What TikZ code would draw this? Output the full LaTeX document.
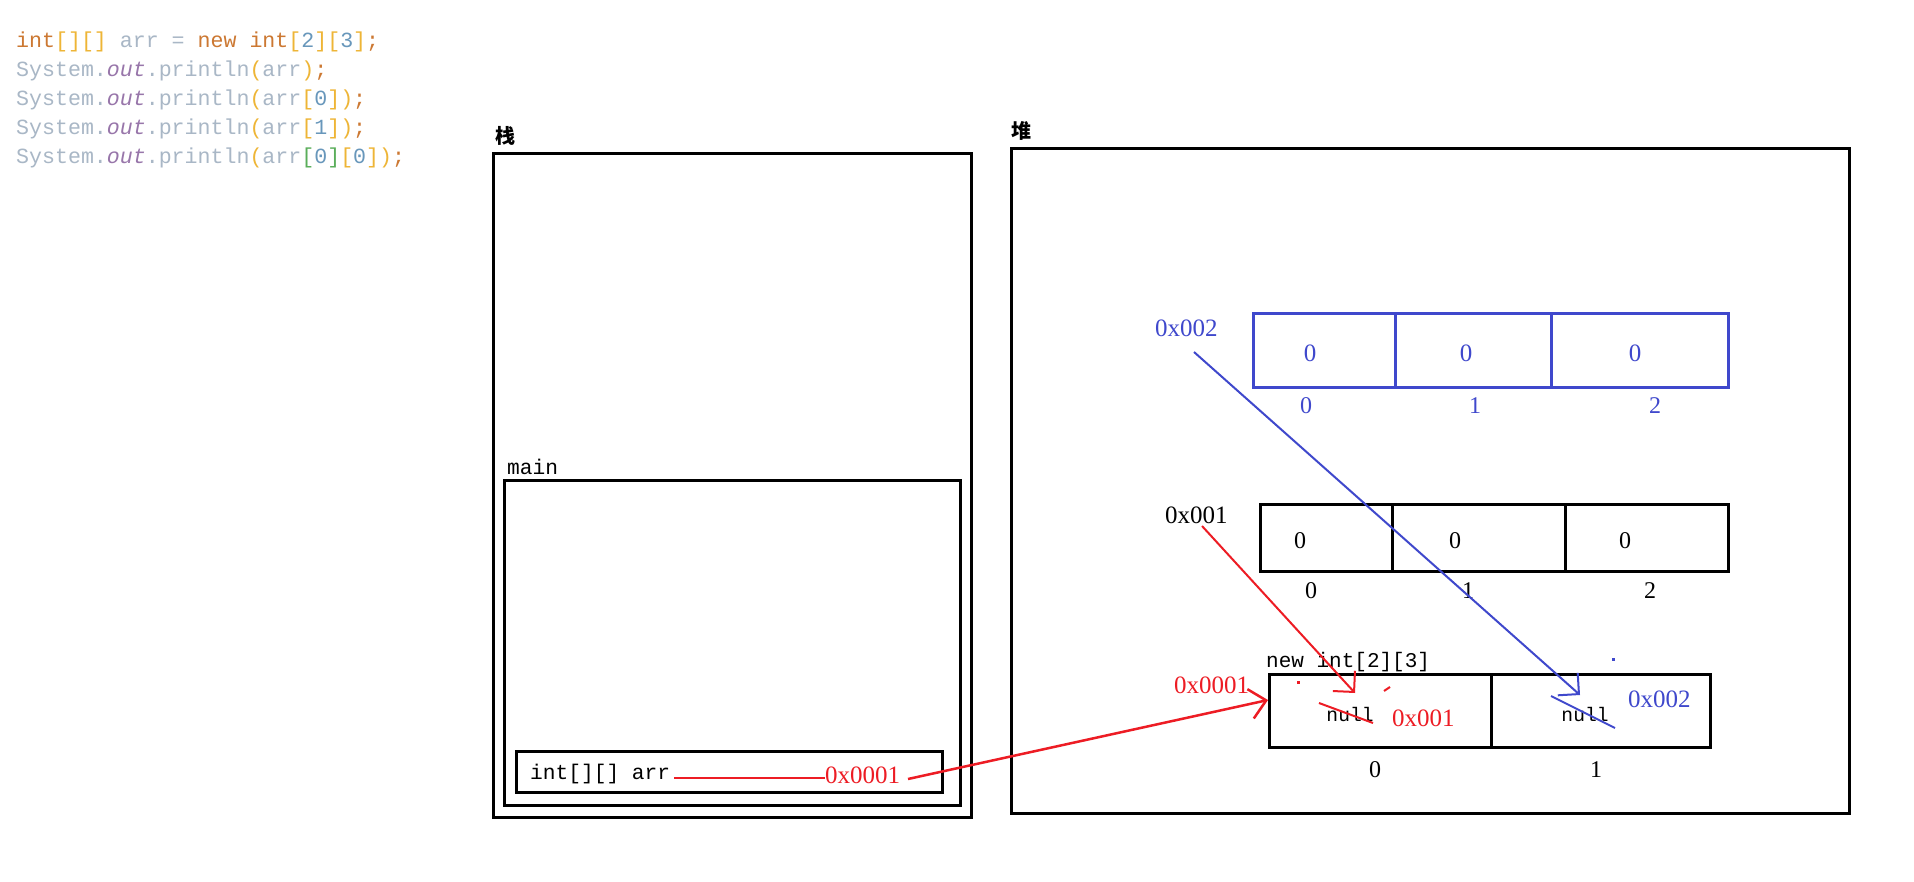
\documentclass[tikz,border=0pt]{standalone}
\usepackage{fontspec}
\setmainfont{Liberation Serif}
\setmonofont{Liberation Mono}
\newfontfamily\cjk{Noto Sans CJK SC}
\usetikzlibrary{arrows.meta}
\definecolor{ckwc}{HTML}{CC7832}
\definecolor{cbrc}{HTML}{EEB536}
\definecolor{cidc}{HTML}{A9B7C6}
\definecolor{cfldc}{HTML}{9876AA}
\definecolor{cnumc}{HTML}{6897BB}
\definecolor{cgrc}{HTML}{5AAE5A}
\definecolor{myred}{HTML}{ED1C24}
\definecolor{myblue}{HTML}{3F48CC}
\newcommand\ckw[1]{\textcolor{ckwc}{#1}}
\newcommand\cbr[1]{\textcolor{cbrc}{#1}}
\newcommand\cid[1]{\textcolor{cidc}{#1}}
\newcommand\cfl[1]{\textcolor{cfldc}{\itshape #1}}
\newcommand\cnm[1]{\textcolor{cnumc}{#1}}
\newcommand\cgr[1]{\textcolor{cgrc}{#1}}
\begin{document}
\begin{tikzpicture}[x=1pt,y=-1pt,
  code/.style={anchor=base west,inner sep=0pt,font=\fontsize{21.6}{21.6}\ttfamily},
  frame/.style={draw=black,line width=3pt,anchor=north west,inner sep=0pt,fill=none},
  bcell/.style={draw=myblue,line width=3pt,anchor=north west,inner sep=0pt},
  kcell/.style={draw=black,line width=3pt,anchor=north west,inner sep=0pt},
  lbl/.style={anchor=base,inner sep=0pt},
  lblw/.style={anchor=base west,inner sep=0pt},
  mono/.style={font=\fontsize{#1}{#1}\ttfamily},
  ser/.style={font=\fontsize{#1}{#1}\selectfont},
  ptr/.style={line width=2pt,-{Straight Barb[length=15pt,width=30pt]}},
]
\useasboundingbox[fill=white] (0,0) rectangle (1914,881);

% code listing
\node[code] (l1) at (16,47) {\ckw{int}\cbr{[][]} \cid{arr =} \ckw{new int}\cbr{[}\cnm{2}\cbr{][}\cnm{3}\cbr{]}\ckw{;}};
\node[code] (l2) at (16,76) {\cid{System.}\cfl{out}\cid{.println}\cbr{(}\cid{arr}\cbr{)}\ckw{;}};
\node[code] (l3) at (16,105) {\cid{System.}\cfl{out}\cid{.println}\cbr{(}\cid{arr}\cbr{[}\cnm{0}\cbr{])}\ckw{;}};
\node[code] (l4) at (16,134) {\cid{System.}\cfl{out}\cid{.println}\cbr{(}\cid{arr}\cbr{[}\cnm{1}\cbr{])}\ckw{;}};
\node[code] (l5) at (16,163) {\cid{System.}\cfl{out}\cid{.println}\cbr{(}\cid{arr}\cgr{[}\cnm{0}\cgr{]}\cbr{[}\cnm{0}\cbr{])}\ckw{;}};

% stack
\node[font=\cjk\bfseries\fontsize{20}{20}\selectfont,inner sep=0pt] (stlbl) at (505,136) {栈};
\node[frame,minimum width=478pt,minimum height=664pt] (stack) at (492,152) {};
\node[lblw,mono=21.2] (mainlbl) at (507,474) {main};
\node[frame,minimum width=456pt,minimum height=325pt] (main) at (503,479) {};
\node[frame,minimum width=426pt,minimum height=41pt] (arrbox) at (515,750) {};
\node[lblw,mono=21.2] (arrtxt) at (530,779) {int[][] arr};
\node[lblw,ser=25,text=myred] (ref0) at (825,783) {0x0001};
\draw[myred,line width=2.5pt] (arrtxt.base east) ++(4,-1) coordinate (lstart) -- (ref0.base west |- lstart);

% heap
\node[font=\cjk\bfseries\fontsize{20}{20}\selectfont,inner sep=0pt] (hplbl) at (1021,131) {堆};
\node[frame,minimum width=838pt,minimum height=665pt] (heap) at (1010,147) {};

% blue array (0x002)
\node[bcell,minimum width=142pt,minimum height=74pt] (u0) at (1252,312) {};
\node[bcell,minimum width=156pt,minimum height=74pt] (u1) at (1394,312) {};
\node[bcell,minimum width=177pt,minimum height=74pt] (u2) at (1550,312) {};
\node[lblw,ser=25,text=myblue] (addr2) at (1155,336) {0x002};
\node[lbl,ser=25,text=myblue] (uv0) at (1310,361) {0};
\node[lbl,ser=25,text=myblue] (uv1) at (1466,361) {0};
\node[lbl,ser=25,text=myblue] (uv2) at (1635,361) {0};
\node[lbl,ser=24,text=myblue] (ui0) at (1306,413) {0};
\node[lbl,ser=24,text=myblue] (ui1) at (1475,413) {1};
\node[lbl,ser=24,text=myblue] (ui2) at (1655,413) {2};

% black array (0x001)
\node[kcell,minimum width=132pt,minimum height=67pt] (k0) at (1259,503) {};
\node[kcell,minimum width=173pt,minimum height=67pt] (k1) at (1391,503) {};
\node[kcell,minimum width=163pt,minimum height=67pt] (k2) at (1564,503) {};
\node[lblw,ser=25] (addr1) at (1165,523) {0x001};
\node[lbl,ser=24] (kv0) at (1300,548) {0};
\node[lbl,ser=24] (kv1) at (1455,548) {0};
\node[lbl,ser=24] (kv2) at (1625,548) {0};
\node[lbl,ser=24] (ki0) at (1311,598) {0};
\node[lbl,ser=24] (ki1) at (1468,598) {1};
\node[lbl,ser=24] (ki2) at (1650,598) {2};

% outer array new int[2][3]
\node[lblw,mono=21] (newlbl) at (1266,667) {new int[2][3]};
\node[kcell,minimum width=222pt,minimum height=73pt] (o0) at (1268,673) {};
\node[kcell,minimum width=219pt,minimum height=73pt] (o1) at (1490,673) {};
\node[lblw,ser=25,text=myred] (oaddr) at (1174,693) {0x0001};
\node[lbl,mono=19.6] (null0) at (1350,721) {null};
\node[lbl,mono=19.6] (null1) at (1585,721) {null};
\node[lblw,ser=25,text=myred] (oref0) at (1392,726) {0x001};
\node[lblw,ser=25,text=myblue] (oref1) at (1628,707) {0x002};
\node[lbl,ser=24] (oi0) at (1375,777) {0};
\node[lbl,ser=24] (oi1) at (1596,777) {1};

% pointers
\coordinate (s1) at (908,779);
\coordinate (t1) at (1268,700);
\draw[myred,line width=2.5pt,-{Straight Barb[length=16pt,width=30pt]}] (s1) -- (t1);
\coordinate (s2) at (1202,526);
\coordinate (t2) at (1355,693);
\draw[myred,ptr] (s2) -- (t2);
\coordinate (s3) at (1194,352);
\coordinate (t3) at (1580,695);
\draw[myblue,ptr] (s3) -- (t3);

% strike-throughs and stray marks
\draw[myred,line width=2pt] (1319,703) -- (1373,723);
\draw[myred,line width=2pt] (1384,691) -- (1390,687);
\fill[myred] (1297,681) rectangle (1300,684);
\draw[myblue,line width=2pt] (1551,696) -- (1615,728);
\fill[myblue] (1612,658) rectangle (1615,661);
\end{tikzpicture}
\end{document}
